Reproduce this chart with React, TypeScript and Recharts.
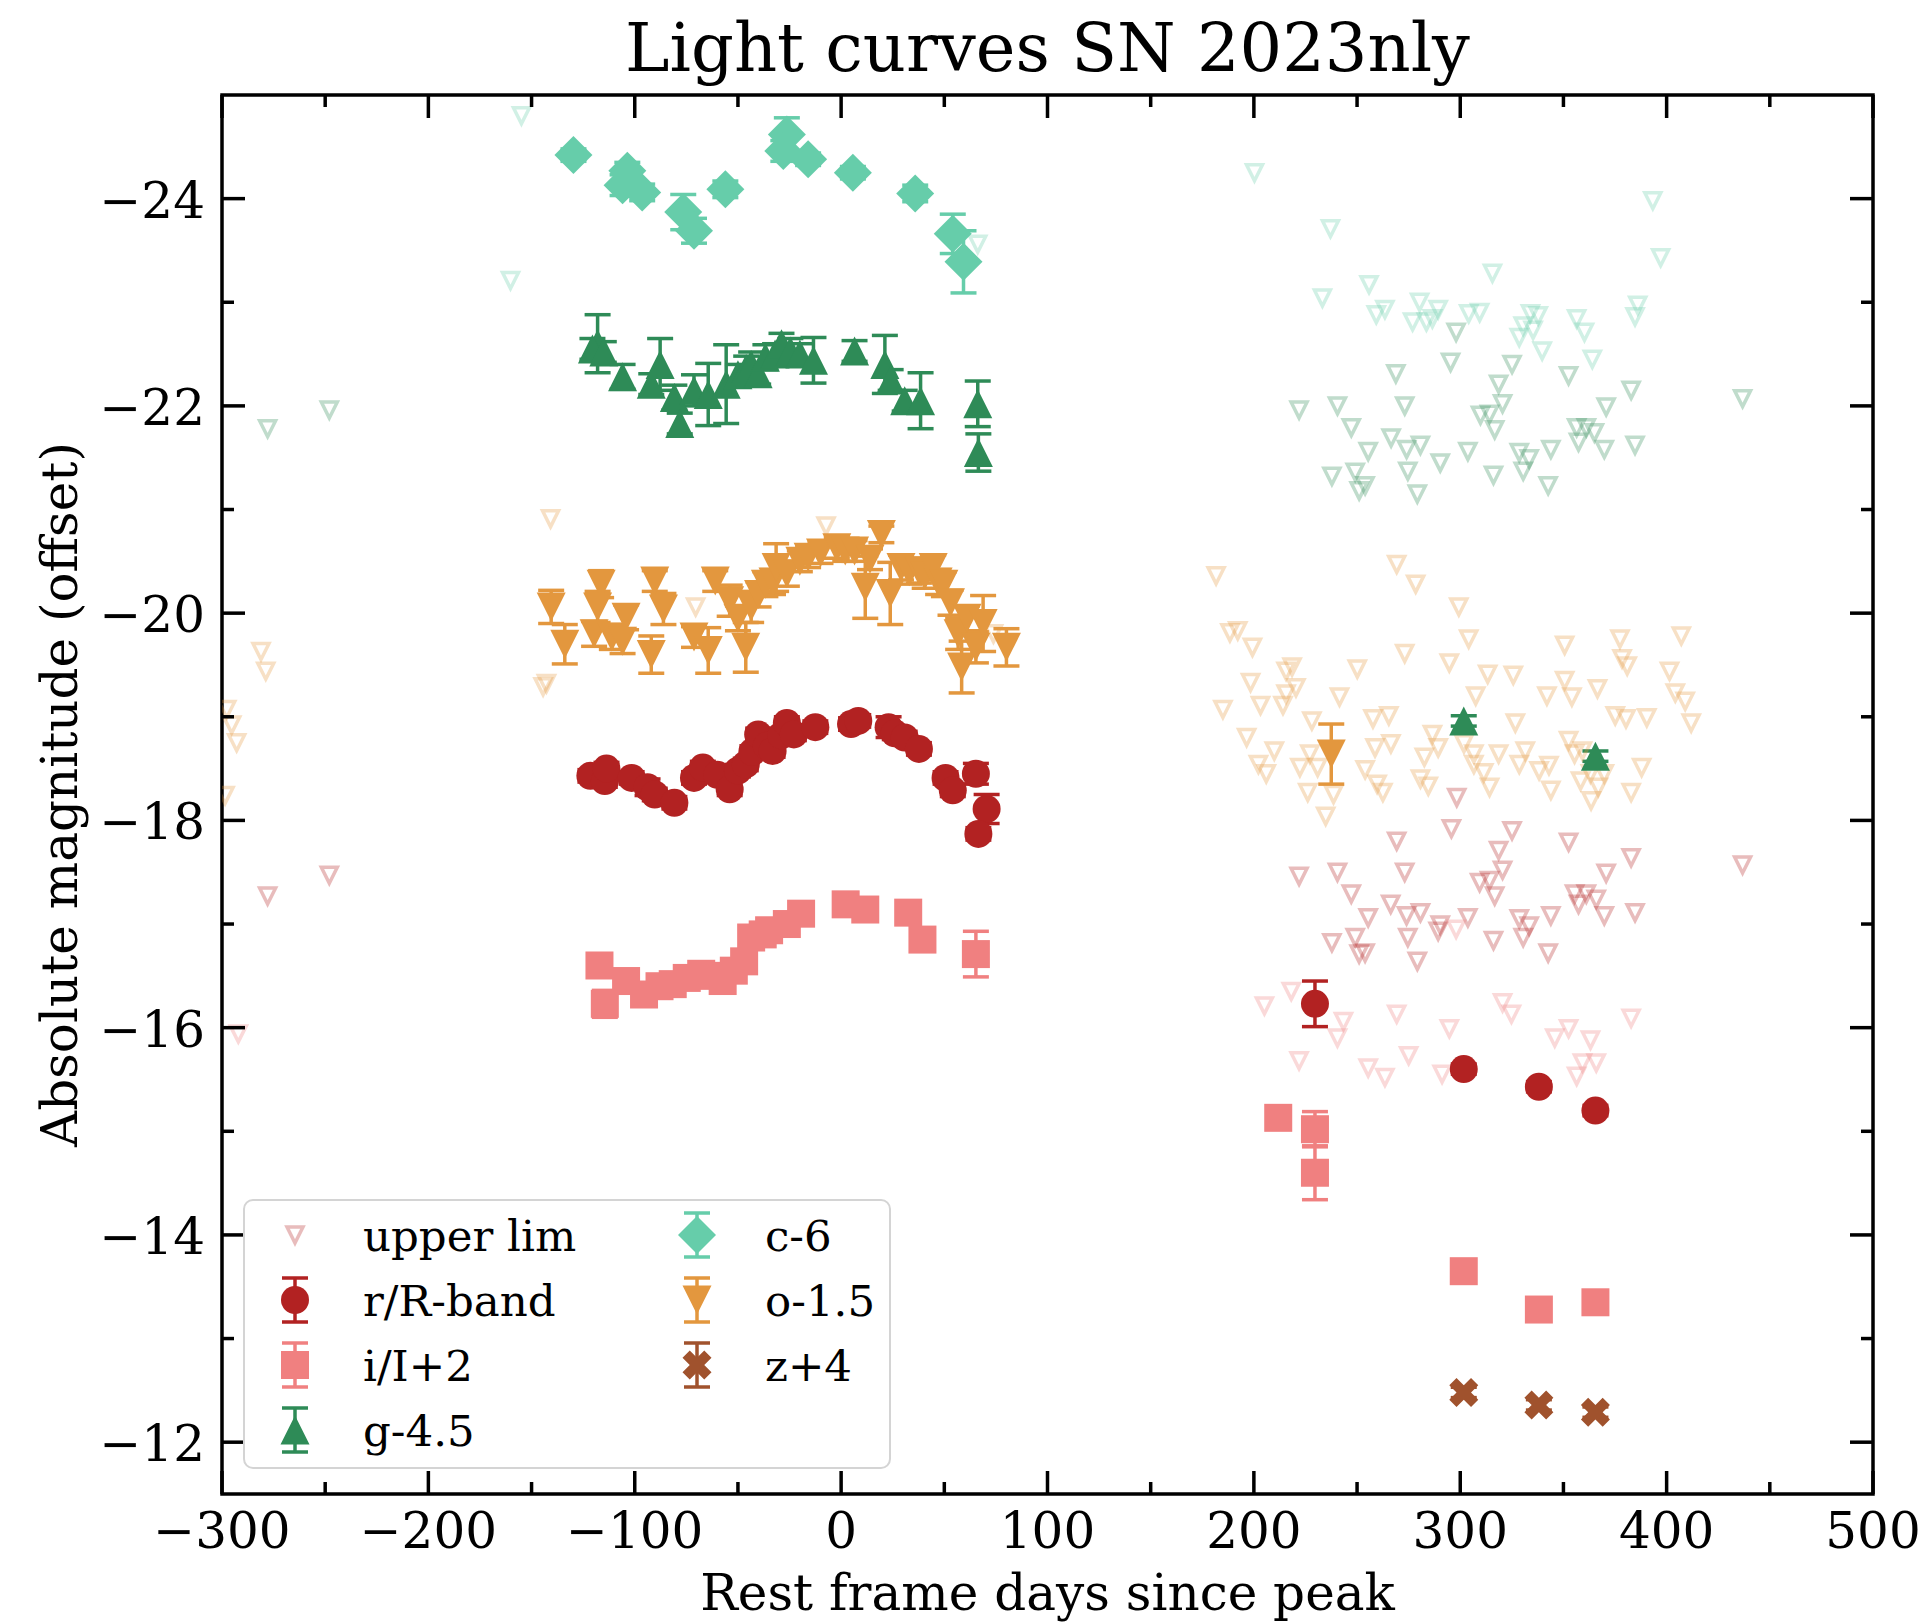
import React from 'react'
import {
  Customized,
  ErrorBar,
  Legend,
  Scatter,
  ScatterChart,
  XAxis,
  YAxis,
} from 'recharts'

const FONT = '"DejaVu Serif", serif'

// chart size and plot box (px); margins below are chosen so the plot lands here
const W = 1927
const H = 1622
const PLOT_L = 222
const PLOT_T = 95
const PLOT_R = 1873
const PLOT_B = 1494

const X_TICKS = [-300, -250, -200, -150, -100, -50, 0, 50, 100, 150, 200, 250, 300, 350, 400, 450, 500]
const Y_TICKS = [-24, -23, -22, -21, -20, -19, -18, -17, -16, -15, -14, -13, -12]

const COLORS = {
  r: '#B22222',
  i: '#F08080',
  g: '#2E8B57',
  c: '#66CDAA',
  o: '#E3973E',
  z: '#A0522D',
}

// [rest-frame day, magnitude (offset applied), 1-sigma error]
const R_BAND = [
  [-121.5, -18.43, 0.06], [-114.5, -18.38, 0.06], [-113.7, -18.5, 0.06], [-101.5, -18.41, 0.06],
  [-93.8, -18.32, 0.08], [-90.3, -18.25, 0.06], [-80.8, -18.17, 0.06], [-71.3, -18.41, 0.06],
  [-67, -18.51, 0.06], [-60, -18.44, 0.06], [-54, -18.3, 0.06], [-50, -18.48, 0.06],
  [-46.2, -18.54, 0.06], [-43, -18.66, 0.06], [-40.2, -18.83, 0.06], [-36, -18.72, 0.06],
  [-33.2, -18.67, 0.06], [-29, -18.82, 0.06], [-26.3, -18.94, 0.06], [-22.9, -18.83, 0.06],
  [-12.5, -18.9, 0.06], [4.8, -18.93, 0.06], [8.3, -18.96, 0.06], [23, -18.9, 0.1],
  [26, -18.84, 0.06], [30.8, -18.8, 0.06], [37.7, -18.69, 0.06], [50.6, -18.41, 0.06],
  [54.1, -18.29, 0.06], [65.3, -18.45, 0.1], [70.5, -18.11, 0.14], [66.5, -17.87, 0.06],
  [229.6, -16.23, 0.22], [301.7, -15.6, 0.05], [338.1, -15.43, 0.05], [365.5, -15.2, 0.05],
]

const I_BAND = [
  [-117.1, -16.6, 0.08], [-114.5, -16.23, 0.13], [-104.2, -16.45, 0.08], [-95.5, -16.32, 0.08],
  [-88, -16.4, 0.08], [-81.6, -16.42, 0.08], [-74.8, -16.48, 0.08], [-67.8, -16.52, 0.08],
  [-62, -16.5, 0.08], [-57.4, -16.45, 0.08], [-52, -16.55, 0.08], [-47, -16.64, 0.08],
  [-43.6, -16.87, 0.08], [-38, -16.9, 0.08], [-34.9, -16.94, 0.08], [-26.3, -17.0, 0.08],
  [-19.4, -17.1, 0.08], [2.2, -17.19, 0.06], [11.7, -17.14, 0.06], [32.5, -17.11, 0.06],
  [39.4, -16.85, 0.08], [65.3, -16.71, 0.22], [211.8, -15.13, 0.06], [229.6, -15.02, 0.17],
  [229.6, -14.6, 0.26], [301.7, -13.65, 0.05], [338.1, -13.28, 0.05], [365.5, -13.35, 0.05],
]

const G_BAND = [
  [-118, -22.6, 0.28], [-120.5, -22.55, 0.1], [-115, -22.52, 0.1], [-105.9, -22.28, 0.12],
  [-92, -22.21, 0.1], [-87.7, -22.4, 0.25], [-80.8, -22.08, 0.12], [-78.2, -21.83, 0.1],
  [-71.3, -22.15, 0.15], [-64.4, -22.11, 0.3], [-55.7, -22.21, 0.38], [-50, -22.3, 0.1],
  [-46, -22.36, 0.12], [-43.6, -22.4, 0.12], [-40.2, -22.31, 0.1], [-36.7, -22.47, 0.12],
  [-32, -22.5, 0.1], [-28.9, -22.6, 0.1], [-24.6, -22.53, 0.12], [-20, -22.5, 0.1],
  [-13.4, -22.44, 0.22], [6.5, -22.53, 0.1], [21.2, -22.4, 0.28], [24, -22.25, 0.1],
  [30.8, -22.05, 0.1], [38.5, -22.05, 0.27], [66.2, -22.02, 0.22], [66.5, -21.55, 0.18],
  [301.7, -18.96, 0.05], [365.5, -18.62, 0.05],
]

const C_BAND = [
  [-129.7, -24.42, 0.06], [-103.6, -24.27, 0.08], [-105.9, -24.13, 0.1], [-96.4, -24.06, 0.08],
  [-76.5, -23.87, 0.17], [-71.3, -23.69, 0.12], [-56.1, -24.09, 0.08], [-26.3, -24.62, 0.16],
  [-28, -24.46, 0.1], [-16, -24.38, 0.06], [5.7, -24.25, 0.06], [35.9, -24.05, 0.08],
  [54.1, -23.66, 0.19], [59.3, -23.39, 0.3],
]

const O_BAND = [
  [-140.5, -20.06, 0.16], [-133.9, -19.7, 0.19], [-116.3, -20.28, 0.13], [-118, -20.06, 0.15],
  [-119.7, -19.8, 0.12], [-111.1, -19.77, 0.12], [-104.2, -19.96, 0.12], [-105.9, -19.73, 0.12],
  [-90.3, -20.31, 0.1], [-92, -19.6, 0.18], [-86.1, -20.04, 0.15], [-71.3, -19.77, 0.1],
  [-64.4, -19.64, 0.22], [-61, -20.31, 0.1], [-54, -20.12, 0.15], [-50, -19.95, 0.12],
  [-46.2, -19.67, 0.24], [-43.6, -20.06, 0.15], [-40, -20.18, 0.12], [-36.7, -20.28, 0.12],
  [-33, -20.3, 0.12], [-31.5, -20.44, 0.23], [-26.3, -20.38, 0.12], [-20, -20.5, 0.1],
  [-16, -20.54, 0.1], [-10, -20.58, 0.1], [-2.1, -20.63, 0.1], [2, -20.6, 0.1],
  [6.5, -20.6, 0.1], [11.7, -20.25, 0.3], [14, -20.52, 0.1], [19.5, -20.76, 0.08],
  [23.8, -20.19, 0.3], [29, -20.44, 0.12], [33, -20.4, 0.12], [37.7, -20.41, 0.12],
  [40.5, -20.36, 0.12], [44.6, -20.44, 0.12], [47, -20.3, 0.12], [49.8, -20.28, 0.12],
  [53, -20.1, 0.12], [56.7, -19.8, 0.15], [58.4, -19.48, 0.25], [61, -19.95, 0.12],
  [65.3, -19.67, 0.15], [68.8, -19.9, 0.27], [80.1, -19.67, 0.18], [237.5, -18.64, 0.29],
]

const Z_BAND = [
  [301.7, -12.48, 0.05], [338.1, -12.36, 0.05], [365.5, -12.29, 0.05],
]

// upper limits: [rest-frame day, magnitude]
const LIM_C = [
  [-154.9, -24.8], [-160.2, -23.21], [66.2, -23.56], [200.3, -24.25], [237.1, -23.71], [255.8, -23.17],
  [233.2, -23.04], [263.5, -22.93], [259.3, -22.88], [280.3, -23.0], [289.3, -22.93], [276.9, -22.81],
  [283.6, -22.81], [286.5, -22.84], [304.1, -22.89], [309.4, -22.9], [315.6, -23.28], [334, -22.89],
  [337.8, -22.87], [330.5, -22.77], [335.3, -22.73], [328.6, -22.66], [339.7, -22.53], [356.4, -22.84],
  [360.2, -22.71], [364, -22.45], [386, -22.97], [384.7, -22.86], [393.3, -23.98], [397.1, -23.43],
]

const LIM_G = [
  [-277.9, -21.78], [-248, -21.96], [221.9, -21.96], [240.5, -22.0], [247.2, -21.79], [255.4, -21.56],
  [268.8, -22.31], [266.5, -21.69], [273.1, -22.0], [274, -21.58], [280.7, -21.62], [295.3, -22.42],
  [298, -22.71], [290.3, -21.45], [303.7, -21.56], [274.6, -21.37], [279.2, -21.15], [237.8, -21.32],
  [249.1, -21.36], [251, -21.18], [253.9, -21.23], [309.8, -21.91], [314.2, -21.92], [318.6, -22.21],
  [320.5, -22.02], [316.7, -21.77], [325.1, -22.4], [316.1, -21.33], [328.6, -21.55], [333.4, -21.49],
  [330.5, -21.37], [343.9, -21.58], [342.6, -21.23], [352.5, -22.29], [356.4, -21.79], [357.3, -21.65],
  [361.1, -21.79], [365, -21.74], [369.8, -21.58], [370.7, -21.99], [382.8, -22.15], [384.7, -21.62],
  [436.8, -22.07],
]

const LIM_O = [
  [-140.8, -20.91], [-281.1, -19.63], [-278.8, -19.44], [-144.4, -19.29], [-142.8, -19.32], [-297.7, -19.07],
  [-295.3, -18.92], [-292.9, -18.75], [-298.5, -18.24], [-70.5, -20.06], [-7.3, -20.84], [73.8, -19.8],
  [181.7, -20.36], [269.2, -20.47], [278.4, -20.28], [299.3, -20.06], [304.1, -19.75], [273.1, -19.61],
  [294.7, -19.52], [250.1, -19.46], [188.4, -19.81], [192.2, -19.83], [199.3, -19.67], [215.6, -19.44],
  [218.5, -19.48], [198.4, -19.33], [220.4, -19.28], [185, -19.07], [203.2, -19.11], [214.1, -19.11],
  [215.6, -19.22], [241.5, -19.19], [228.1, -18.96], [257.7, -18.98], [265.4, -19.01], [196.5, -18.8],
  [209.9, -18.67], [202.2, -18.54], [206, -18.45], [222.3, -18.51], [227.1, -18.64], [230.9, -18.51],
  [238.6, -18.25], [226.1, -18.27], [234.8, -18.04], [253.9, -18.49], [258.7, -18.7], [266.4, -18.74],
  [259.7, -18.35], [262.5, -18.27], [282.6, -18.61], [286.5, -18.83], [289.3, -18.7], [280.7, -18.4],
  [284.5, -18.33], [301.8, -18.74], [306.6, -18.64], [306.6, -18.54], [311.4, -18.46], [314.2, -18.32],
  [313.3, -19.41], [307.5, -19.2], [318.6, -18.64], [325.7, -19.4], [326.7, -18.94], [328.6, -18.54],
  [331.5, -18.67], [338.2, -18.48], [343, -18.53], [343.9, -18.29], [342, -19.2], [350.6, -19.69],
  [350.6, -19.35], [354.1, -19.19], [352.5, -18.77], [355.4, -18.64], [359.2, -18.67], [358.3, -18.38],
  [363.1, -18.45], [363.4, -18.19], [366.9, -18.32], [369.8, -18.45], [366.5, -19.27], [375.1, -19.01],
  [377.4, -19.75], [378.4, -19.56], [380.9, -19.49], [380.3, -18.98], [390.4, -18.99], [382.8, -18.27],
  [387.9, -18.51], [401.4, -19.44], [404.2, -19.23], [409, -19.15], [407.1, -19.78], [411.9, -18.94],
]

const LIM_R = [
  [-277.9, -17.27], [-248, -17.47], [298.3, -18.22], [295.7, -17.92], [269.2, -17.8], [325.1, -17.9],
  [352.5, -17.79], [318.6, -17.71], [382.8, -17.64], [221.9, -17.46], [240.5, -17.5], [273.1, -17.5],
  [320.5, -17.52], [370.7, -17.49], [436.8, -17.57], [247.2, -17.29], [309.4, -17.4], [314.2, -17.42],
  [316.7, -17.27], [355.4, -17.29], [357.3, -17.19], [361.1, -17.29], [365.9, -17.24], [369.8, -17.08],
  [384.7, -17.11], [266.3, -17.19], [274, -17.08], [280.7, -17.11], [255.4, -17.06], [303.7, -17.06],
  [290.3, -16.99], [289.3, -16.93], [274.6, -16.87], [328.6, -17.05], [333.4, -16.98], [330.5, -16.87],
  [343.9, -17.08], [249.1, -16.87], [237.8, -16.82], [251, -16.71], [253.9, -16.72], [316.1, -16.84],
  [279.2, -16.64], [342.6, -16.72],
]

const LIM_I = [
  [-292.1, -15.94], [205.1, -16.21], [218.1, -16.35], [243.4, -16.06], [240.5, -15.9], [269.2, -16.13],
  [294.7, -15.99], [298, -16.95], [320.5, -16.24], [324.8, -16.13], [352.5, -15.99], [382.8, -16.09],
  [345.8, -15.9], [363.1, -15.88], [221.9, -15.68], [255.4, -15.61], [263.5, -15.52], [275, -15.73],
  [291.2, -15.55], [359.2, -15.66], [365.9, -15.66], [356.4, -15.53],
]

const toPoints = (rows: number[][]) => rows.map(([x, y, e]) => ({ x, y, e: e ?? 0 }))

const fmt = (v: number) => (v < 0 ? `\u2212${Math.abs(v)}` : `${v}`)

type MarkerKind = 'circle' | 'square' | 'triUp' | 'triDown' | 'diamond' | 'xfill' | 'lim'

const Marker = ({ kind, color, cx, cy }: { kind: MarkerKind; color: string; cx: number; cy: number }) => {
  switch (kind) {
    case 'circle':
      return <circle cx={cx} cy={cy} r={14} fill={color} />
    case 'square':
      return <rect x={cx - 14} y={cy - 14} width={28} height={28} fill={color} />
    case 'triUp': {
      const s = 14.5
      return <path d={`M${cx},${cy - s}L${cx + s},${cy + s}L${cx - s},${cy + s}Z`} fill={color} />
    }
    case 'triDown': {
      const s = 14.5
      return <path d={`M${cx},${cy + s}L${cx + s},${cy - s}L${cx - s},${cy - s}Z`} fill={color} />
    }
    case 'diamond': {
      const s = 19
      return <path d={`M${cx},${cy - s}L${cx + s},${cy}L${cx},${cy + s}L${cx - s},${cy}Z`} fill={color} />
    }
    case 'xfill': {
      // matplotlib's filled "X", unit grid of 1/4
      const u = 29 / 4
      const pts = [[-1, -2], [0, -1], [1, -2], [2, -1], [1, 0], [2, 1], [1, 2], [0, 1], [-1, 2], [-2, 1], [-1, 0], [-2, -1]]
      const d = pts.map(([a, b], k) => `${k ? 'L' : 'M'}${cx + a * u},${cy + b * u}`).join('') + 'Z'
      return <path d={d} fill={color} />
    }
    case 'lim': {
      const s = 8
      return (
        <path
          d={`M${cx},${cy + s}L${cx + s},${cy - s}L${cx - s},${cy - s}Z`}
          fill="none"
          stroke={color}
          strokeWidth={3.5}
          strokeOpacity={0.3}
        />
      )
    }
    default:
      return null
  }
}

const XTick = (props: any) => {
  const { x, payload } = props
  const v = payload.value
  const major = v % 100 === 0
  const len = major ? 23 : 12
  return (
    <g>
      <line x1={x} x2={x} y1={PLOT_B} y2={PLOT_B - len} stroke="#000" strokeWidth={3.5} />
      <line x1={x} x2={x} y1={PLOT_T} y2={PLOT_T + len} stroke="#000" strokeWidth={3.5} />
      {major && (
        <text x={x} y={1548} textAnchor="middle" fontSize={50} fontFamily={FONT} fill="#000">
          {fmt(v)}
        </text>
      )}
    </g>
  )
}

const YTick = (props: any) => {
  const { y, payload } = props
  const v = payload.value
  const major = v % 2 === 0
  const len = major ? 23 : 12
  return (
    <g>
      <line x1={PLOT_L} x2={PLOT_L + len} y1={y} y2={y} stroke="#000" strokeWidth={3.5} />
      <line x1={PLOT_R} x2={PLOT_R - len} y1={y} y2={y} stroke="#000" strokeWidth={3.5} />
      {major && (
        <text x={205} y={y + 19} textAnchor="end" fontSize={50} fontFamily={FONT} fill="#000">
          {fmt(v)}
        </text>
      )}
    </g>
  )
}

const Frame = () => (
  <g>
    <rect
      x={PLOT_L}
      y={PLOT_T}
      width={PLOT_R - PLOT_L}
      height={PLOT_B - PLOT_T}
      fill="none"
      stroke="#000"
      strokeWidth={3.5}
    />
    <text x={(PLOT_L + PLOT_R) / 2} y={71} textAnchor="middle" fontSize={67} fontFamily={FONT} fill="#000">
      Light curves SN 2023nly
    </text>
    <text x={(PLOT_L + PLOT_R) / 2} y={1610} textAnchor="middle" fontSize={50} fontFamily={FONT} fill="#000">
      Rest frame days since peak
    </text>
    <text
      transform={`translate(77, ${(PLOT_T + PLOT_B) / 2}) rotate(-90)`}
      textAnchor="middle"
      fontSize={50}
      fontFamily={FONT}
      fill="#000"
    >
      Absolute magnitude (offset)
    </text>
  </g>
)

const LEGEND_ITEMS: { label: string; kind: MarkerKind; color: string; col: number; row: number }[] = [
  { label: 'upper lim', kind: 'lim', color: COLORS.r, col: 0, row: 0 },
  { label: 'r/R-band', kind: 'circle', color: COLORS.r, col: 0, row: 1 },
  { label: 'i/I+2', kind: 'square', color: COLORS.i, col: 0, row: 2 },
  { label: 'g-4.5', kind: 'triUp', color: COLORS.g, col: 0, row: 3 },
  { label: 'c-6', kind: 'diamond', color: COLORS.c, col: 1, row: 0 },
  { label: 'o-1.5', kind: 'triDown', color: COLORS.o, col: 1, row: 1 },
  { label: 'z+4', kind: 'xfill', color: COLORS.z, col: 1, row: 2 },
]

const LegendBox = () => (
  <div
    style={{
      width: 648,
      height: 270,
      boxSizing: 'border-box',
      border: '2px solid #d4d4d4',
      borderRadius: 10,
      background: 'rgba(255,255,255,0.8)',
      position: 'relative',
    }}
  >
    <svg width={648} height={270} style={{ position: 'absolute', left: -2, top: -2 }}>
      {LEGEND_ITEMS.map((it) => {
        const mx = it.col === 0 ? 52 : 454
        const tx = it.col === 0 ? 120 : 522
        const my = 36 + it.row * 65
        return (
          <g key={it.label}>
            {it.kind !== 'lim' && (
              <g stroke={it.color} strokeWidth={3.5}>
                <line x1={mx} x2={mx} y1={my - 22} y2={my + 22} />
                <line x1={mx - 13} x2={mx + 13} y1={my - 22} y2={my - 22} />
                <line x1={mx - 13} x2={mx + 13} y1={my + 22} y2={my + 22} />
              </g>
            )}
            <Marker kind={it.kind} color={it.color} cx={mx} cy={my} />
            <text x={tx} y={my + 16} fontSize={43.5} fontFamily={FONT} fill="#000">
              {it.label}
            </text>
          </g>
        )
      })}
    </svg>
  </div>
)

const limSeries = [
  { key: 'lim-c', rows: LIM_C, color: COLORS.c },
  { key: 'lim-g', rows: LIM_G, color: COLORS.g },
  { key: 'lim-o', rows: LIM_O, color: COLORS.o },
  { key: 'lim-r', rows: LIM_R, color: COLORS.r },
  { key: 'lim-i', rows: LIM_I, color: COLORS.i },
]

const bandSeries: { key: string; rows: number[][]; color: string; kind: MarkerKind }[] = [
  { key: 'r', rows: R_BAND, color: COLORS.r, kind: 'circle' },
  { key: 'i', rows: I_BAND, color: COLORS.i, kind: 'square' },
  { key: 'g', rows: G_BAND, color: COLORS.g, kind: 'triUp' },
  { key: 'c', rows: C_BAND, color: COLORS.c, kind: 'diamond' },
  { key: 'o', rows: O_BAND, color: COLORS.o, kind: 'triDown' },
  { key: 'z', rows: Z_BAND, color: COLORS.z, kind: 'xfill' },
]

export default function App() {
  return (
    <div style={{ position: 'absolute', left: 0, top: 0, background: '#fff' }}>
      <ScatterChart
        width={W}
        height={H}
        margin={{ top: PLOT_T, right: W - PLOT_R, bottom: 0, left: 0 }}
      >
        <XAxis
          type="number"
          dataKey="x"
          domain={[-300, 500]}
          ticks={X_TICKS}
          interval={0}
          allowDataOverflow
          height={H - PLOT_B}
          axisLine={false}
          tickLine={false}
          tick={<XTick />}
        />
        <YAxis
          type="number"
          dataKey="y"
          domain={[-25, -11.5]}
          reversed
          ticks={Y_TICKS}
          interval={0}
          allowDataOverflow
          width={PLOT_L}
          axisLine={false}
          tickLine={false}
          tick={<YTick />}
        />
        {limSeries.map((s) => (
          <Scatter
            key={s.key}
            data={toPoints(s.rows)}
            isAnimationActive={false}
            shape={(p: any) => <Marker kind="lim" color={s.color} cx={p.cx} cy={p.cy} />}
          />
        ))}
        {bandSeries.map((s) => (
          <Scatter
            key={s.key}
            data={toPoints(s.rows)}
            isAnimationActive={false}
            shape={(p: any) => <Marker kind={s.kind} color={s.color} cx={p.cx} cy={p.cy} />}
          >
            <ErrorBar dataKey="e" direction="y" width={13} stroke={s.color} strokeWidth={3.5} />
          </Scatter>
        ))}
        <Legend
          layout="horizontal"
          verticalAlign="middle"
          align="center"
          content={() => <LegendBox />}
          wrapperStyle={{ left: 243, top: 1199, width: 648, height: 270 }}
        />
        <Customized component={Frame} />
      </ScatterChart>
    </div>
  )
}
